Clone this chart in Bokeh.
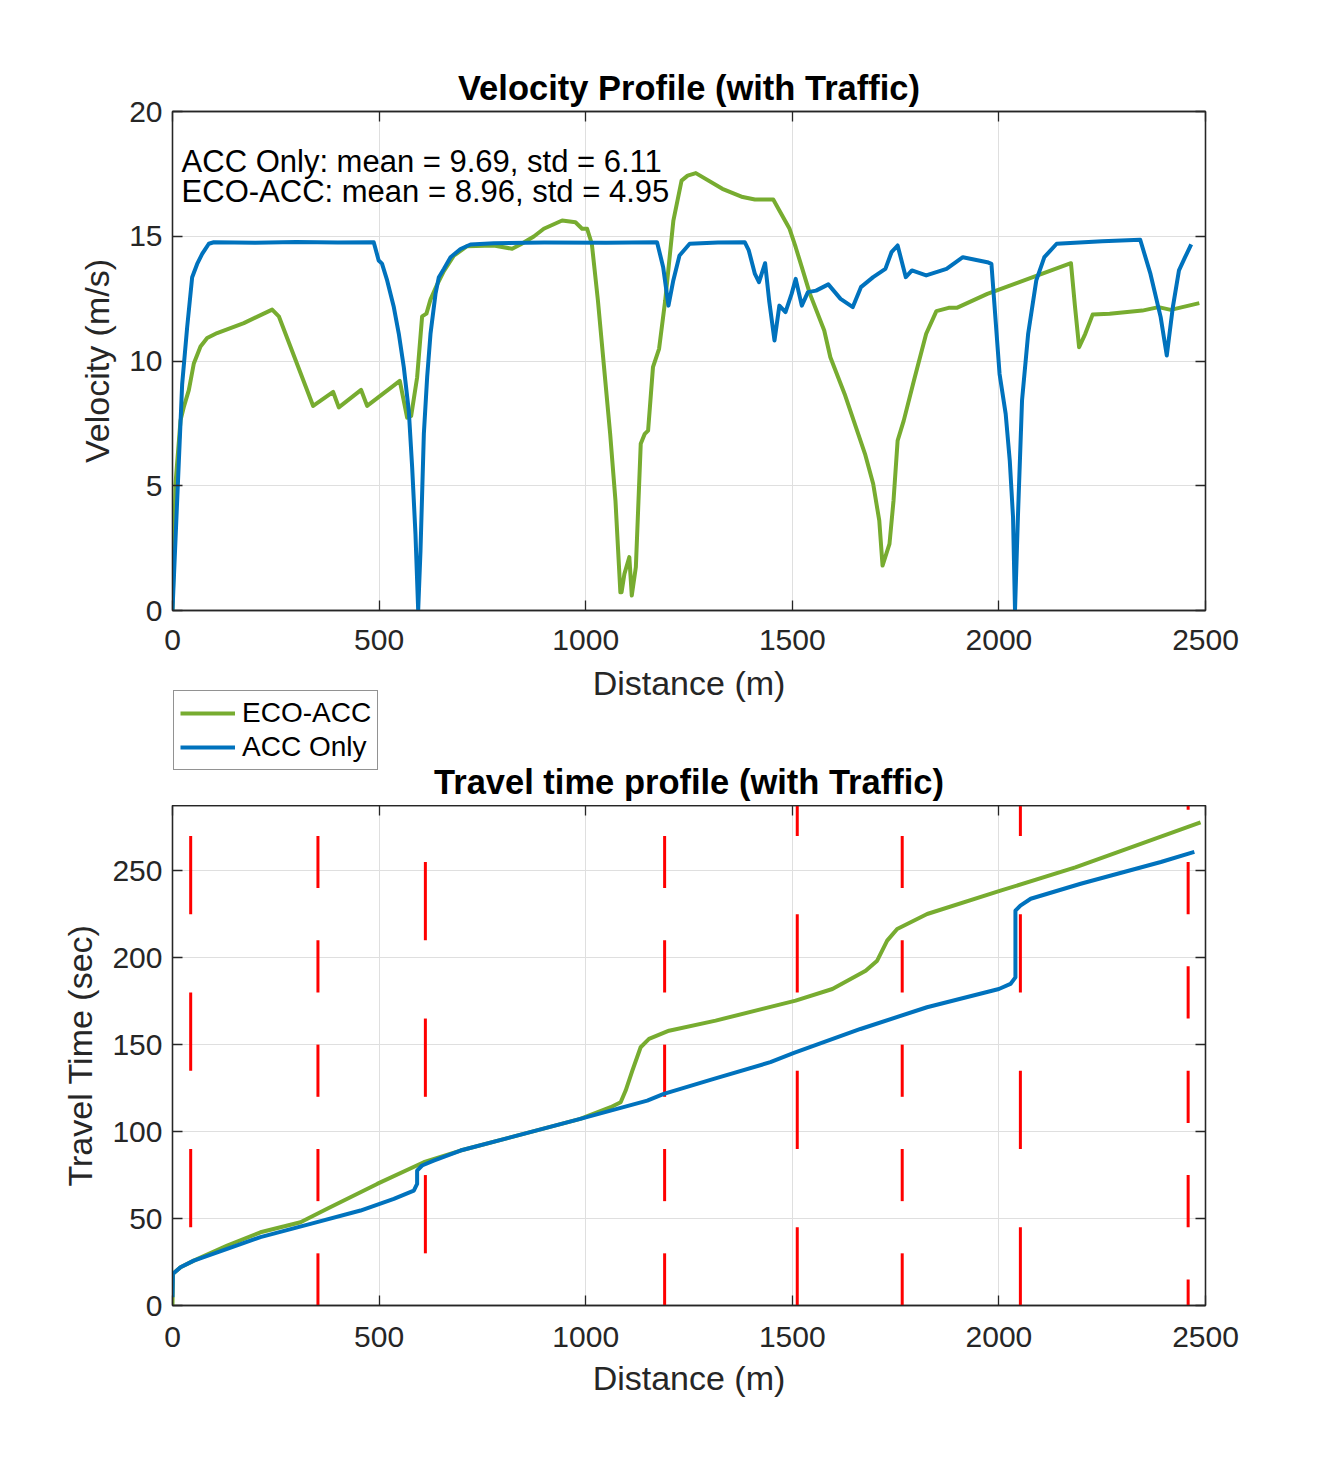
from bokeh.plotting import figure
from bokeh.models import (ColumnDataSource, Range1d, LinearAxis, FixedTicker,
                          Legend, LegendItem, CustomLabelingPolicy)
from bokeh.layouts import column
from bokeh.embed import file_html
from bokeh.resources import INLINE
from bokeh.core.properties import value

# ---------------- data ----------------
x_ticks = [0, 500, 1000, 1500, 2000, 2500]
v_ticks = [0, 5, 10, 15, 20]
t_ticks = [0, 50, 100, 150, 200, 250]

# Velocity profile: ACC Only
acc_dist = [0, 11.3, 23.4, 35.5, 47.6, 59.7, 71.8, 87.9, 100, 200, 300, 400, 487,
            499, 507, 519.5, 535.6, 547.7, 559.8, 571.9, 580, 588, 594.6,
            600.2, 608.3, 616.3, 624.4, 636.5, 644.6, 656.7, 672.9, 697, 721.3, 777.7,
            900, 1050, 1172.7, 1187.5, 1200.3, 1212, 1227, 1251.6, 1320, 1384.9,
            1394.7, 1409.5, 1419.4, 1434.2, 1444, 1456.9, 1468.7, 1483.5, 1498.3,
            1508.2, 1523, 1537.8, 1557.6, 1587.2, 1616.8, 1646.4, 1666.1, 1695.7,
            1725.3, 1740.1, 1754.9, 1774.7, 1789.5, 1824, 1873.3, 1912.8, 1972,
            1981.9, 2001.6, 2016.4, 2026.3, 2034.2, 2039, 2046, 2056, 2070.8,
            2090.5, 2110, 2139.8, 2250, 2342, 2366.8, 2391.5, 2406.3, 2421,
            2435.8, 2450.6, 2465.4]
acc_vel = [0, 4.41, 9.08, 11.36, 13.36, 13.89, 14.29, 14.70, 14.76, 14.74, 14.77, 14.75, 14.76,
           14.03, 13.9, 13.23, 12.16, 11.09, 9.75, 8.0, 5.74, 3.07, 0,
           2.4, 7.08, 9.35, 11.09, 12.69, 13.36, 13.69, 14.16, 14.49, 14.67, 14.72,
           14.75, 14.74, 14.76, 13.76, 12.22, 13.23, 14.23, 14.70, 14.75, 14.76,
           14.43, 13.49, 13.16, 13.92, 12.42, 10.82, 12.22, 11.96, 12.69,
           13.29, 12.22, 12.76, 12.82, 13.07, 12.49, 12.16, 12.96, 13.36,
           13.69, 14.36, 14.63, 13.36, 13.63, 13.43, 13.69, 14.16, 13.96,
           13.89, 9.48, 7.88, 6.01, 3.74, 0, 3.74, 8.42, 11.09,
           13.23, 14.16, 14.70, 14.80, 14.86, 13.49, 11.76, 10.22, 12.16,
           13.63, 14.16, 14.67]

# Velocity profile: ECO-ACC
eco_dist = [0, 7.3, 19.4, 27.4, 39.5, 51.6, 67.8, 83.9, 108, 172.6, 241.2, 257.3,
            340.4, 388.8, 402.5, 456.5, 471, 550.1, 567.8, 577.6, 592, 604.1, 614.6,
            624.3, 640.4, 656.7, 680.8, 713, 777.6, 822, 842, 874.4, 898.6, 943,
            975.2, 991.3, 1003.4, 1014.8, 1029.6, 1044.4, 1059.2, 1072, 1083.9,
            1086.8, 1093.7, 1105.6, 1111.5, 1121.4, 1133.2, 1143, 1151, 1162.8,
            1177.6, 1192.4, 1212.2, 1232, 1246.7, 1266.5, 1330.7, 1379.9, 1409.5,
            1453.9, 1468.7, 1493.4, 1508.2, 1523, 1542.7, 1577.3, 1592.1, 1626.6,
            1675.9, 1695.7, 1710.5, 1718.4, 1735.2, 1745, 1754.9, 1769.7, 1794.4,
            1824, 1848.7, 1878.3, 1898, 1972, 2070.8, 2174.4, 2184.3, 2194.1,
            2209, 2226.8, 2268, 2347, 2386.4, 2416, 2485]
eco_vel = [0, 5.08, 7.62, 8.16, 8.83, 9.9, 10.58, 10.92, 11.12, 11.52, 12.06, 11.79,
           8.2, 8.76, 8.14, 8.84, 8.2, 9.2, 7.73, 7.8, 9.34, 11.79, 11.9,
           12.46, 13.06, 13.6, 14.22, 14.6, 14.63, 14.5, 14.67, 14.99, 15.3, 15.63,
           15.56, 15.3, 15.3, 14.7, 12.42, 9.75, 7.08, 4.41, 0.73,
           0.73, 1.47, 2.14, 0.6, 1.74, 6.68, 7.08, 7.21, 9.75,
           10.49, 12.42, 15.63, 17.23, 17.43, 17.53, 16.9, 16.57, 16.47,
           16.47, 16.03, 15.3, 14.56, 13.76, 12.69, 11.22, 10.15, 8.68,
           6.28, 5.08, 3.6, 1.8, 2.67, 4.41, 6.81, 7.61, 9.22,
           11.09, 12.0, 12.13, 12.13, 12.69, 13.29, 13.92, 12.16, 10.55,
           11.09, 11.86, 11.89, 12.02, 12.16, 12.05, 12.32]

acc_mean, acc_std = 9.69, 6.11
eco_mean, eco_std = 8.96, 4.95

# Travel time profile
acc_tt_dist = [0, 1, 19.4, 51.6, 132.3, 212.9, 334, 455, 535.7, 584, 592, 592, 604, 632,
               697, 987, 1149, 1189, 1310, 1447, 1504, 1665, 1826, 2000, 2028, 2040,
               2040, 2052, 2077, 2198, 2392, 2473]
acc_tt_time = [4.8, 18.2, 22.0, 25.8, 32.6, 39.3, 46.9, 54.6, 61.3, 66.1, 69.9, 77.6, 80.5, 83.3,
               89.1, 107.3, 117.8, 121.7, 130.3, 139.9, 145.2, 159, 171.5, 182, 184.9, 188.7,
               227, 229.9, 233.9, 242.5, 255, 260.8]
eco_tt_dist = [0, 1, 19.4, 51.6, 132.3, 212.9, 309.8, 374.3, 495.3, 608.1, 697, 987,
               1060.4, 1084.6, 1096.7, 1112.9, 1133, 1153.2, 1201.6, 1314.5, 1508, 1597,
               1677.6, 1705.4, 1729.6, 1753.8, 1826.4, 2003.9, 2185, 2488]
eco_tt_time = [0, 18.2, 22.0, 25.8, 34.5, 42.1, 47.9, 55.6, 69.9, 82.4, 89.1, 107.3,
               114.0, 116.9, 123.6, 135.1, 148.5, 153.3, 158.0, 163.8, 175.3, 182.0,
               192.5, 198.3, 209.8, 216.5, 225.1, 238.5, 251.9, 277.8]

# Traffic signals: position and red-phase windows [start, end] in seconds
signal_pos = [44, 352, 612, 1191, 1512, 1766, 2052, 2458]
red_windows = [
    [[45, 90], [135, 180], [225, 270]],
    [[0, 30], [60, 90], [120, 150], [180, 210], [240, 270]],
    [[30, 75], [120, 165], [210, 255]],
    [[0, 30], [60, 90], [120, 150], [180, 210], [240, 270]],
    [[0, 45], [90, 135], [180, 225], [270, 315]],
    [[0, 30], [60, 90], [120, 150], [180, 210], [240, 270]],
    [[0, 45], [90, 135], [180, 225], [270, 315]],
    [[0, 15], [45, 75], [105, 135], [165, 195], [225, 255], [285, 315]],
]

series_names = ["ECO-ACC", "ACC Only"]
x_label = "Distance (m)"

# ---------------- styling ----------------
FONT = "Liberation Sans"
GREEN = "#77AC30"
BLUE = "#0072BD"
RED = "#FF0000"
AX = "#262626"
GRID = "#dfdfdf"
LW = 4
W = 1334
FRAME_W = 1033
LEFT = 172
RIGHT = W - LEFT - FRAME_W
P1_TOP, P1_FRAME, P1_BOTTOM = 111, 499, 50
P1_END = P1_TOP + P1_FRAME + P1_BOTTOM
STRIP_H = 805 - P1_END
NAN = float("nan")


def style(p, yticks, ylabel, xlabel=None, x_standoff=19, x_label_standoff=11):
    p.outline_line_color = AX
    p.outline_line_width = 1.3
    p.xaxis.ticker = FixedTicker(ticks=x_ticks)
    p.yaxis.ticker = FixedTicker(ticks=yticks)
    p.xgrid.ticker = FixedTicker(ticks=x_ticks)
    p.ygrid.ticker = FixedTicker(ticks=yticks)
    p.xgrid.grid_line_color = GRID
    p.ygrid.grid_line_color = GRID
    xa, ya = p.below[0], p.left[0]
    for ax in (xa, ya):
        ax.axis_line_color = AX
        ax.axis_line_width = 1.3
        ax.major_tick_line_color = AX
        ax.major_tick_line_width = 1.3
        ax.major_tick_in = 10
        ax.major_tick_out = 0
        ax.minor_tick_line_color = None
        ax.major_label_text_font = FONT
        ax.major_label_text_font_size = "30px"
        ax.major_label_text_color = AX
        ax.axis_label_text_font = FONT
        ax.axis_label_text_font_size = "34px"
        ax.axis_label_text_font_style = "normal"
        ax.axis_label_text_color = AX
    ya.axis_label = ylabel
    if xlabel is not None:
        xa.axis_label = xlabel
    xa.major_label_standoff = x_standoff
    xa.axis_label_standoff = x_label_standoff
    ya.major_label_standoff = 10
    ya.axis_label_standoff = 10
    # mirrored ticks on the top and right edges (box on), without labels
    for side, ticks in (("above", x_ticks), ("right", yticks)):
        ax = LinearAxis(ticker=FixedTicker(ticks=ticks), axis_label=None,
                        major_label_policy=CustomLabelingPolicy(
                            code="for (const i of indices) indices.unset(i)\nreturn indices"))
        ax.axis_line_color = AX
        ax.axis_line_width = 1.3
        ax.major_tick_line_color = AX
        ax.major_tick_line_width = 1.3
        ax.major_tick_in = 10
        ax.major_tick_out = 0
        ax.minor_tick_line_color = None
        ax.major_label_text_font_size = "0px"
        ax.major_label_standoff = 0
        p.add_layout(ax, side)


# ---------------- top: velocity ----------------
p1 = figure(frame_width=FRAME_W, frame_height=P1_FRAME, min_border_left=LEFT,
            min_border_right=RIGHT, min_border_top=P1_TOP, min_border_bottom=P1_BOTTOM,
            x_range=Range1d(0, 2500), y_range=Range1d(0, 20),
            title="Velocity Profile (with Traffic)",
            output_backend="svg", toolbar_location=None,
            background_fill_color="white", border_fill_color="white")
style(p1, v_ticks, "Velocity (m/s)")
p1.title.text_font = FONT
p1.title.text_font_size = "34.5px"
p1.title.text_font_style = "bold"
p1.title.text_color = "black"
p1.title.align = "center"
p1.title.standoff = 9

p1.line(eco_dist, eco_vel, line_color=GREEN, line_width=LW, line_join="round")
p1.line(acc_dist, acc_vel, line_color=BLUE, line_width=LW, line_join="round")

txt1 = "%s: mean = %.2f, std = %.2f" % (series_names[1], acc_mean, acc_std)
txt2 = "%s: mean = %.2f, std = %.2f" % (series_names[0], eco_mean, eco_std)
p1.text(x=[22, 22], y=[17.99, 16.79], text=[txt1, txt2], text_font=value(FONT),
        text_font_size="31px", text_color="black", text_align="left",
        text_baseline="alphabetic")

# ---------------- middle strip: x label of top plot, legend, bottom title ----------------
# x in page pixels (the strip's frame is aligned with the plots above/below)
strip = figure(width=W, height=STRIP_H, x_range=Range1d(LEFT, LEFT + FRAME_W),
               y_range=Range1d(STRIP_H, 0),
               x_axis_type=None, y_axis_type=None, min_border=0,
               min_border_left=LEFT, min_border_right=RIGHT,
               output_backend="svg", toolbar_location=None,
               background_fill_color="white", border_fill_color="white")
strip.outline_line_color = None
strip.text(x=[LEFT + FRAME_W / 2], y=[682 - P1_END], text=[x_label], text_font=value(FONT),
           text_font_size="34px", text_color=AX, text_align="center",
           text_baseline="middle")
strip.text(x=[LEFT + FRAME_W / 2], y=[781 - P1_END], text=["Travel time profile (with Traffic)"],
           text_font=value(FONT), text_font_size="34.5px", text_font_style="bold",
           text_color="black", text_align="center", text_baseline="middle")
lg_g = strip.line([NAN, NAN], [NAN, NAN], line_color=GREEN, line_width=LW)
lg_b = strip.line([NAN, NAN], [NAN, NAN], line_color=BLUE, line_width=LW)
legend = Legend(items=[LegendItem(label=series_names[0], renderers=[lg_g]),
                       LegendItem(label=series_names[1], renderers=[lg_b])],
                location=(1, 35))
legend.label_text_font = FONT
legend.label_text_font_size = "28px"
legend.label_text_color = "black"
legend.glyph_width = 55
legend.glyph_height = 28
legend.label_height = 28
legend.label_standoff = 7
legend.spacing = 2
legend.padding = 6
legend.margin = 0
legend.border_line_color = AX
legend.border_line_width = 1
legend.background_fill_color = "white"
legend.background_fill_alpha = 1
strip.add_layout(legend)

# ---------------- bottom: travel time ----------------
p2 = figure(frame_width=FRAME_W, frame_height=500, min_border_left=LEFT,
            min_border_right=RIGHT, min_border_top=0, min_border_bottom=162,
            x_range=Range1d(0, 2500), y_range=Range1d(0, 287.5),
            output_backend="svg", toolbar_location=None,
            background_fill_color="white", border_fill_color="white")
style(p2, t_ticks, "Travel Time (sec)", x_label, x_standoff=21, x_label_standoff=9)

seg_x, seg_t0, seg_t1 = [], [], []
for pos, wins in zip(signal_pos, red_windows):
    for a, b in wins:
        seg_x.append(pos)
        seg_t0.append(a)
        seg_t1.append(b)
seg_src = ColumnDataSource(dict(x=seg_x, t0=seg_t0, t1=seg_t1))
p2.segment(x0="x", y0="t0", x1="x", y1="t1", source=seg_src, line_color=RED, line_width=3)

p2.line(eco_tt_dist, eco_tt_time, line_color=GREEN, line_width=LW, line_join="round")
p2.line(acc_tt_dist, acc_tt_time, line_color=BLUE, line_width=LW, line_join="round")

layout = column(p1, strip, p2, spacing=0)
open("out.html", "w").write(file_html(layout, INLINE))
